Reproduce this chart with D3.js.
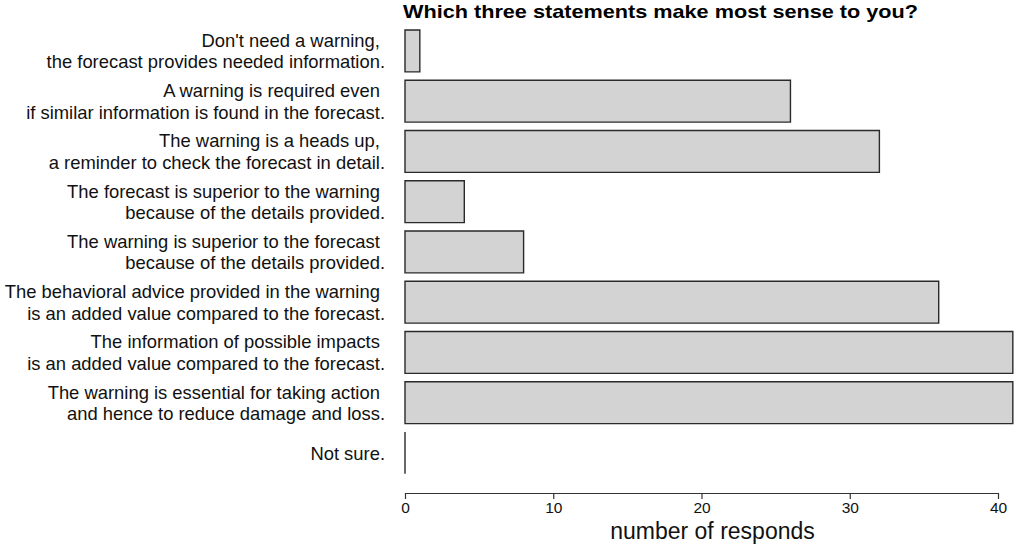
<!DOCTYPE html>
<html lang="en">
<head>
    <meta charset="UTF-8">
    <title>Statements</title>
    <style>
        body { margin: 0; background: #fff; }
        text { font-family: "Liberation Sans", Arial, sans-serif; }
    </style>
</head>
<body>
    <svg width="1016" height="544"></svg>
    <script src="https://d3js.org/d3.v7.min.js"></script>
    <script>
        // labels: each statement split in two lines (trailing spaces kept as in original)
        let labels = [
            ["Don't need a warning, ", "the forecast provides needed information."],
            ["A warning is required even ", "if similar information is found in the forecast."],
            ["The warning is a heads up, ", "a reminder to check the forecast in detail."],
            ["The forecast is superior to the warning ", "because of the details provided."],
            ["The warning is superior to the forecast ", "because of the details provided."],
            ["The behavioral advice provided in the warning ", "is an added value compared to the forecast."],
            ["The information of possible impacts ", "is an added value compared to the forecast."],
            ["The warning is essential for taking action ", "and hence to reduce damage and loss."],
            ["Not sure."]
        ];
        let counts = [1, 26, 32, 4, 8, 36, 41, 41, 0];
        let xTicks = [0, 10, 20, 30, 40];

        let svg = d3.select("svg");
        let plotLeft = 405, plotTop = 30;

        let x = d3.scaleLinear()
            .domain([0, 40])
            .range([plotLeft, plotLeft + 593]);

        // R barplot style: width 1, space 0.2
        let y = d3.scaleBand()
            .domain(d3.range(counts.length))
            .range([plotTop - 4.2, plotTop - 4.2 + 50.25 * counts.length])
            .paddingInner(0.2 / 1.2)
            .paddingOuter(0.1 / 1.2);

        // bars as paths so the zero bar still shows its outline
        svg.selectAll("path.bar")
            .data(counts)
            .join("path")
            .attr("class", "bar")
            .attr("d", (d, i) => {
                let x0 = x(0), x1 = x(d), y0 = y(i), y1 = y(i) + y.bandwidth();
                return "M" + x0 + "," + y0 + "H" + x1 + "V" + y1 + "H" + x0 + "Z";
            })
            .attr("fill", "#d3d3d3")
            .attr("stroke", "#2a2a2a")
            .attr("stroke-width", 1.4);

        // category labels
        let lab = svg.selectAll("text.lab")
            .data(labels)
            .join("text")
            .attr("class", "lab")
            .attr("text-anchor", "end")
            .attr("font-size", 18.4)
            .attr("fill", "#111")
            .style("white-space", "pre")
            .attr("transform", (d, i) => "translate(385," + (y(i) + y.bandwidth() / 2) + ")");

        lab.selectAll("tspan")
            .data(d => d.map((t, j) => ({ t: t, j: j, n: d.length })))
            .join("tspan")
            .attr("x", 0)
            .attr("y", d => (d.j - (d.n - 1) / 2) * 21.5)
            .attr("dy", "0.36em")
            .text(d => d.t);

        // x axis
        let axis = svg.append("g")
            .attr("transform", "translate(0,493)")
            .call(d3.axisBottom(x).tickValues(xTicks).tickSize(6).tickPadding(3).tickSizeOuter(0));
        axis.attr("font-size", null).attr("font-family", null);
        axis.select(".domain").attr("stroke", "#333").attr("stroke-width", 1.2);
        axis.selectAll(".tick line").attr("stroke", "#333").attr("stroke-width", 1.2);
        axis.selectAll(".tick text")
            .style("font-size", "15.5px")
            .attr("fill", "#111");

        svg.append("text")
            .attr("x", x(20) + 11)
            .attr("y", 539)
            .attr("text-anchor", "middle")
            .attr("font-size", 23)
            .attr("fill", "#111")
            .text("number of responds");

        svg.append("text")
            .attr("x", 403)
            .attr("y", 18)
            .attr("font-size", 18.5)
            .attr("font-weight", "bold")
            .attr("fill", "#000")
            .attr("textLength", 515)
            .attr("lengthAdjust", "spacingAndGlyphs")
            .text("Which three statements make most sense to you?");
    </script>
</body>
</html>
